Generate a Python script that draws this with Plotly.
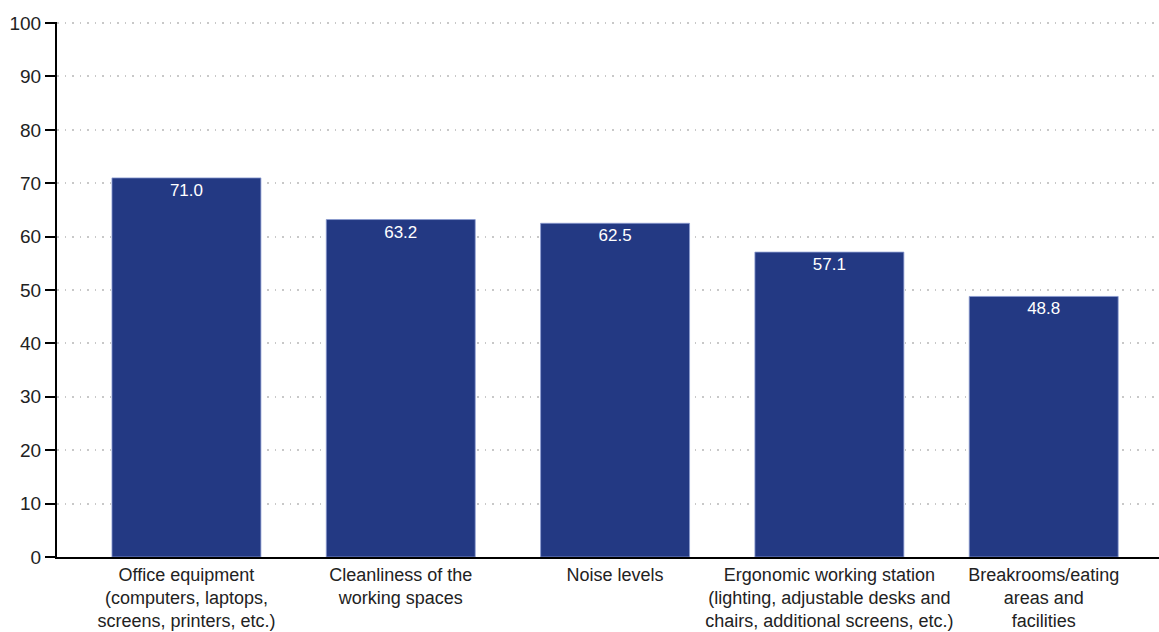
import plotly.graph_objects as go

categories = [
    "Office equipment<br>(computers, laptops,<br>screens, printers, etc.)",
    "Cleanliness of the<br>working spaces",
    "Noise levels",
    "Ergonomic working station<br>(lighting, adjustable desks and<br>chairs, additional screens, etc.)",
    "Breakrooms/eating<br>areas and<br>facilities",
]
values = [71.0, 63.2, 62.5, 57.1, 48.8]
y_ticks = list(range(0, 101, 10))

FONT = "Liberation Sans Narrow, Arial Narrow, Liberation Sans, Arial, sans-serif"

fig = go.Figure(go.Bar(
    x=list(range(len(categories))),
    y=values,
    marker=dict(color="#233983", line=dict(color="#8a9bd0", width=0.8)),
    text=[f"{v:.1f}" for v in values],
    textposition="inside",
    insidetextanchor="end",
    textfont=dict(color="white", size=17, family=FONT),
    width=0.695,
    cliponaxis=False,
))

fig.update_layout(
    width=1159, height=632,
    margin=dict(l=57, r=0, t=22, b=75),
    plot_bgcolor="white", paper_bgcolor="white",
    font=dict(family=FONT, size=18, color="#222"),
    showlegend=False,
)
fig.update_xaxes(
    tickmode="array",
    tickvals=list(range(len(categories))),
    ticktext=categories,
    range=[-0.604, 4.538],
    showline=True, linecolor="black", linewidth=2,
    ticks="", showgrid=False,
    tickfont=dict(size=18, family=FONT, color="#222"),
    automargin=False,
)
fig.update_yaxes(
    range=[0, 100.2],
    tickvals=y_ticks,
    showline=True, linecolor="black", linewidth=2,
    ticks="outside", ticklen=10, tickwidth=2, tickcolor="black",
    showgrid=True, gridcolor="#c8c8c8", griddash="1.5px,6px", gridwidth=2,
    zeroline=False,
    tickfont=dict(size=19, family=FONT, color="#222"),
    automargin=False,
)

fig.write_html(
    "out.html",
    config={"displayModeBar": False},
    post_script="document.body.style.margin='0';document.body.style.padding='0';",
)
